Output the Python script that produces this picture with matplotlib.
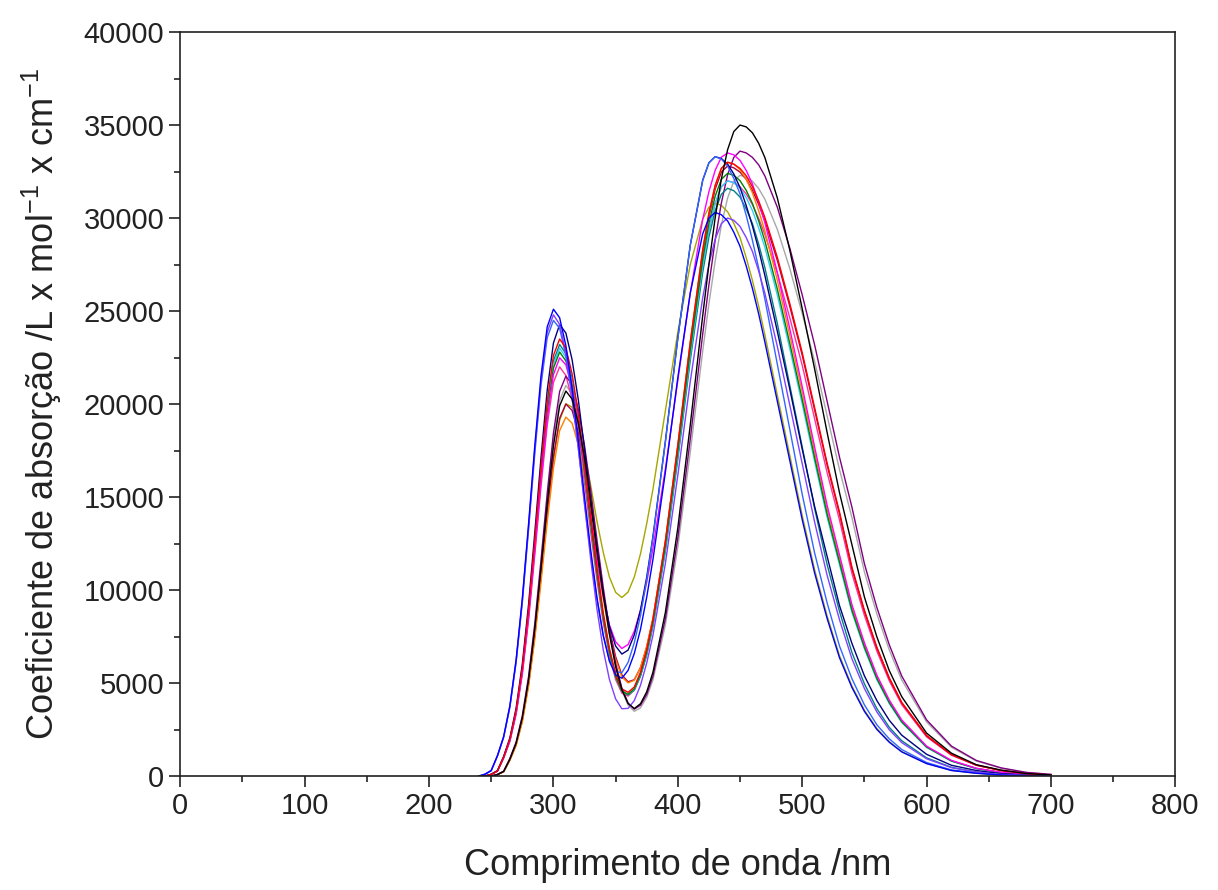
import numpy as np
import matplotlib
matplotlib.use('Agg')
import matplotlib.pyplot as plt
from matplotlib.ticker import MultipleLocator

plt.rcParams['font.family'] = ['Liberation Sans', 'DejaVu Sans']
plt.rcParams['mathtext.default'] = 'regular'

# wavelength grid (nm): 5 nm steps over the UV band and the visible maximum, coarser over the tail
wl = (list(range(240, 380, 5)) + [380, 390, 400, 410] + list(range(420, 470, 5))
      + list(range(470, 590, 10)) + list(range(600, 720, 20)))

# molar absorption coefficient (L mol-1 cm-1) of each spectrum on the grid above
black = [0, 0, 0, 80, 250, 910, 1760, 3130, 5150, 7890, 11180, 14630, 17740, 19910, 20700, 20270, 18980, 17120, 14770, 12240, 9810, 7630, 5890, 4650, 3900, 3630, 3890, 4530, 5580, 8800, 13340, 18870, 24750, 27510, 30000, 32100, 33670, 34650, 35000, 34900, 34580, 34020, 33250, 31080, 28280, 25130, 21880, 18480, 15230, 12430, 9630, 7490, 5670, 4270, 2310, 1230, 610, 320, 140, 60]
red = [0, 0, 90, 280, 1030, 2000, 3550, 5850, 8950, 12690, 16610, 20140, 22610, 23500, 23010, 21630, 19470, 16810, 13960, 11220, 8800, 6870, 5490, 4690, 4500, 4790, 5590, 6800, 8410, 12620, 17790, 23330, 28280, 30260, 31750, 32670, 33000, 32900, 32670, 32270, 31680, 30920, 30030, 27890, 25410, 22770, 19800, 16830, 14190, 11220, 8910, 6930, 5280, 3960, 2180, 1160, 590, 300, 130, 60]
green = [0, 0, 90, 270, 1000, 1940, 3440, 5680, 8690, 12310, 16120, 19540, 21930, 22800, 22320, 20990, 18890, 16320, 13550, 10890, 8550, 6680, 5350, 4580, 4390, 4690, 5480, 6670, 8250, 12390, 17460, 22910, 27770, 29710, 31170, 32080, 32400, 32300, 32010, 31490, 30780, 29840, 28770, 26180, 23260, 20250, 17110, 14090, 11500, 8910, 6930, 5250, 3950, 2920, 1560, 810, 410, 190, 80, 30]
blue = [0, 100, 300, 1100, 2130, 3790, 6250, 9560, 13550, 17750, 21510, 24150, 25100, 24640, 23140, 20840, 18030, 15000, 12140, 9600, 7580, 6170, 5440, 5260, 5680, 6590, 7890, 9620, 11640, 16330, 21420, 25970, 29150, 30000, 30300, 30180, 29850, 29240, 28480, 27420, 26210, 24850, 23330, 20150, 16970, 13790, 10910, 8480, 6360, 4760, 3480, 2510, 1820, 1300, 670, 300, 150, 60, 20, 10]
cyan = [0, 0, 90, 280, 1010, 1960, 3470, 5730, 8760, 12420, 16260, 19710, 22130, 23000, 22520, 21170, 19050, 16460, 13660, 10980, 8610, 6720, 5370, 4570, 4380, 4660, 5430, 6590, 8150, 12240, 17250, 22620, 27420, 29340, 30780, 31680, 32000, 31900, 31620, 31100, 30400, 29470, 28420, 25860, 22980, 20000, 16900, 13920, 11360, 8800, 6850, 5180, 3900, 2880, 1540, 800, 400, 190, 80, 30]
magenta = [0, 0, 90, 270, 980, 1900, 3370, 5550, 8520, 12080, 15830, 19200, 21580, 22490, 22110, 20850, 18920, 16570, 14030, 11680, 9670, 8130, 7220, 6860, 7070, 7780, 8920, 10430, 12240, 16520, 21270, 25960, 29920, 31420, 32560, 33270, 33500, 33400, 33100, 32560, 31830, 30850, 29750, 27070, 24050, 20940, 17690, 14570, 11890, 9210, 7170, 5430, 4090, 3020, 1610, 840, 420, 200, 90, 30]
olive = [0, 0, 0, 80, 230, 860, 1680, 2970, 4910, 7510, 10650, 13970, 16970, 19130, 20020, 19830, 18870, 17410, 15610, 13700, 12040, 10700, 9880, 9600, 9890, 10700, 11950, 13570, 15420, 19640, 23870, 27500, 29940, 30580, 30800, 30680, 30340, 29720, 28950, 27870, 26640, 25260, 23720, 20480, 17250, 14010, 11090, 8620, 6470, 4840, 3540, 2560, 1850, 1320, 680, 310, 150, 60, 20, 10]
navy = [0, 0, 100, 290, 1060, 2060, 3650, 6030, 9220, 13070, 17110, 20740, 23280, 24280, 23820, 22390, 20230, 17580, 14760, 12110, 9820, 8060, 6990, 6560, 6770, 7590, 8920, 10700, 12880, 18000, 23540, 28540, 32030, 32970, 33300, 33200, 32900, 32370, 31640, 30670, 29570, 28310, 26910, 23910, 20810, 17580, 14490, 11820, 9160, 7130, 5390, 4060, 3000, 2200, 1170, 580, 300, 130, 60, 20]
purple = [0, 0, 0, 90, 260, 950, 1830, 3250, 5350, 8190, 11610, 15200, 18430, 20680, 21500, 21050, 19720, 17770, 15330, 12690, 10170, 7890, 6060, 4740, 3930, 3600, 3810, 4390, 5370, 8460, 12800, 18110, 23760, 26410, 28800, 30810, 32320, 33260, 33600, 33500, 33260, 32860, 32260, 30580, 28390, 25870, 23180, 20160, 17140, 14450, 11420, 9070, 7060, 5380, 3020, 1610, 840, 440, 200, 90]
wine = [0, 0, 0, 80, 240, 880, 1700, 3020, 4980, 7620, 10800, 14140, 17140, 19240, 20000, 19660, 18470, 16660, 14450, 12080, 9850, 7920, 6420, 5440, 5070, 5180, 5830, 6950, 8450, 12580, 17680, 23190, 28110, 30080, 31550, 32470, 32800, 32700, 32470, 32080, 31490, 30730, 29850, 27720, 25260, 22630, 19680, 16730, 14100, 11150, 8860, 6890, 5250, 3940, 2160, 1150, 590, 300, 130, 60]
orange = [0, 0, 0, 80, 230, 850, 1640, 2910, 4810, 7350, 10420, 13650, 16540, 18570, 19300, 18970, 17830, 16080, 13960, 11670, 9530, 7680, 6260, 5330, 5010, 5150, 5830, 6970, 8490, 12650, 17790, 23330, 28280, 30260, 31750, 32670, 33000, 32900, 32600, 32080, 31350, 30390, 29300, 26660, 23690, 20630, 17420, 14360, 11720, 9080, 7060, 5350, 4030, 2970, 1580, 830, 410, 200, 90, 30]
darkcyan = [0, 0, 90, 280, 1020, 1970, 3500, 5780, 8840, 12530, 16400, 19880, 22320, 23200, 22710, 21350, 19210, 16590, 13780, 11070, 8660, 6760, 5380, 4570, 4360, 4620, 5370, 6510, 8060, 12090, 17030, 22340, 27080, 28980, 30400, 31280, 31600, 31470, 31130, 30490, 29700, 28600, 27330, 24330, 21010, 17700, 14380, 11380, 8850, 6640, 4960, 3630, 2620, 1900, 980, 470, 220, 90, 40, 10]
royal = [0, 100, 290, 1080, 2080, 3700, 6100, 9330, 13230, 17320, 21000, 23570, 24500, 24070, 22600, 20360, 17630, 14700, 11920, 9480, 7570, 6240, 5620, 5560, 6110, 7170, 8630, 10560, 12790, 17950, 23540, 28540, 32030, 32970, 33300, 33170, 32800, 32130, 31300, 30140, 28800, 27310, 25640, 22140, 18650, 15150, 11990, 9320, 6990, 5230, 3830, 2760, 2000, 1430, 730, 330, 170, 70, 20, 10]
violet = [0, 100, 300, 1090, 2110, 3740, 6180, 9450, 13390, 17530, 21250, 23860, 24800, 24280, 22740, 20480, 17650, 14590, 11640, 8980, 6810, 5200, 4150, 3620, 3640, 4060, 4880, 6080, 7570, 11430, 16170, 21210, 25710, 27510, 28860, 29700, 30000, 29880, 29550, 28950, 28200, 27150, 25950, 23100, 19950, 16800, 13650, 10800, 8400, 6300, 4710, 3450, 2490, 1800, 930, 450, 210, 90, 40, 10]
pink = [0, 0, 90, 260, 970, 1870, 3320, 5480, 8380, 11880, 15550, 18850, 21160, 22000, 21540, 20250, 18230, 15750, 13080, 10530, 8260, 6470, 5190, 4460, 4300, 4620, 5400, 6580, 8150, 12230, 17250, 22620, 27420, 29340, 30780, 31680, 32000, 31900, 31680, 31300, 30720, 29980, 29120, 27040, 24640, 22080, 19200, 16320, 13760, 10880, 8640, 6720, 5120, 3840, 2110, 1120, 580, 290, 130, 50]
gray = [0, 0, 0, 80, 250, 920, 1790, 3170, 5230, 8000, 11340, 14850, 18000, 20200, 21000, 20560, 19260, 17360, 14980, 12400, 9920, 7700, 5910, 4610, 3810, 3480, 3670, 4230, 5170, 8120, 12310, 17410, 22840, 25390, 27680, 29620, 31070, 31980, 32300, 32200, 31980, 31590, 31010, 29390, 27290, 24870, 22290, 19380, 16470, 13890, 10980, 8720, 6780, 5170, 2910, 1550, 810, 420, 190, 90]

spectra = [
    (gray, '#a8a8a8'),
    (olive, '#a6a600'),
    (pink, '#ff3399'),
    (wine, '#b00040'),
    (orange, '#ff8000'),
    (purple, '#800080'),
    (darkcyan, '#008080'),
    (cyan, '#33ccff'),
    (green, '#008000'),
    (magenta, '#ff00ff'),
    (navy, '#000080'),
    (royal, '#3366ff'),
    (violet, '#8040ff'),
    (red, '#ff0000'),
    (blue, '#0000ff'),
    (black, '#000000'),
]

fig = plt.figure(figsize=(12.18, 8.90), dpi=100)
ax = fig.add_axes([0.148, 0.128, 0.817, 0.836])

for eps, col in spectra:
    ax.plot(wl, eps, color=col, lw=1.0)

ax.set_xlim(0, 800)
ax.set_ylim(0, 40000)
ax.xaxis.set_major_locator(MultipleLocator(100))
ax.xaxis.set_minor_locator(MultipleLocator(50))
ax.yaxis.set_major_locator(MultipleLocator(5000))
ax.yaxis.set_minor_locator(MultipleLocator(2500))
ax.tick_params(which='both', direction='out', top=False, right=False, width=1.2,
               labelsize=21, colors='#222222')
ax.tick_params(which='major', length=8)
ax.tick_params(which='minor', length=4)
for sp in ax.spines.values():
    sp.set_linewidth(1.2)
    sp.set_color('#222222')

ax.set_xlabel('Comprimento de onda /nm', fontsize=26, labelpad=20, color='#222222')
ax.set_ylabel('Coeficiente de absorção /L x mol$^{-1}$ x cm$^{-1}$', fontsize=26,
              labelpad=14, color='#222222')

fig.savefig('out.png', dpi=100)
